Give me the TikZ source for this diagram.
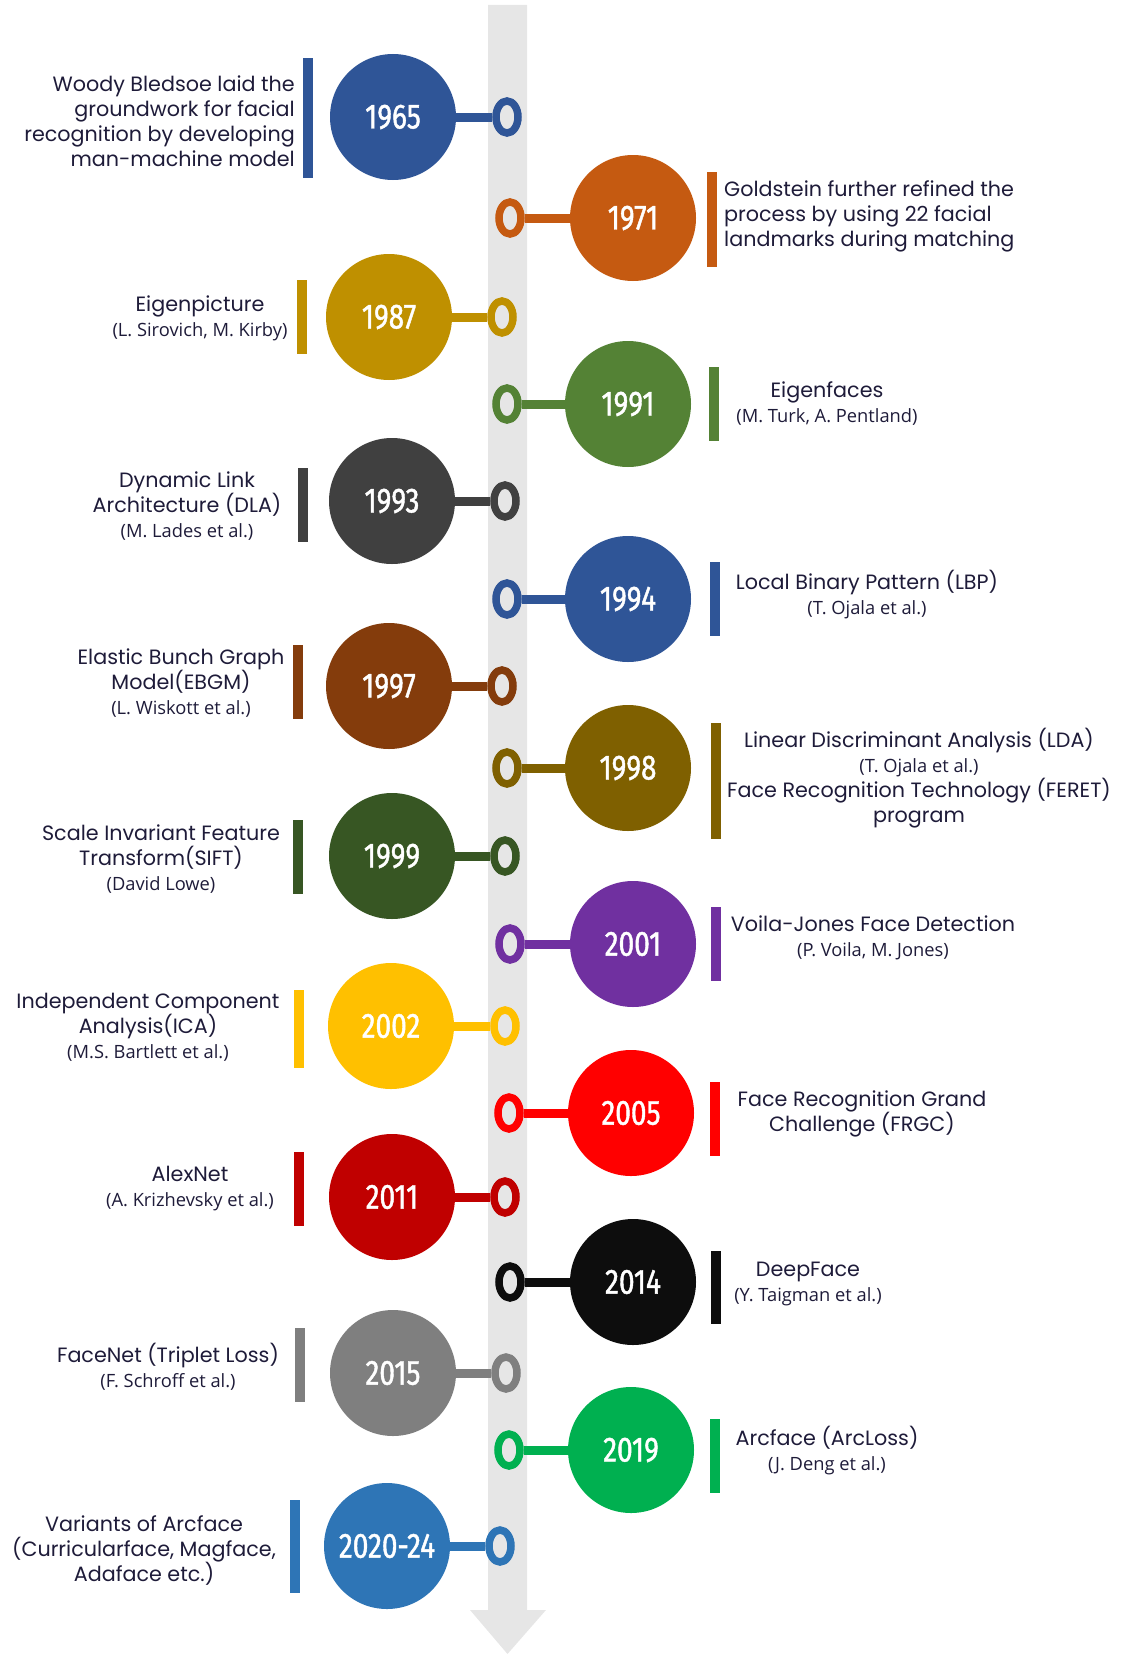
\documentclass[tikz,border=0pt]{standalone}
\usepackage{fontspec}
\usepackage{tikz}
\usetikzlibrary{shapes.geometric}
\newfontfamily\popp{Poppins}
\newfontfamily\auth{Open Sans}
\newfontfamily\yearf[FakeStretch=0.8, FakeBold=1.2]{Fira Sans}
\definecolor{ink}{HTML}{1E1B39}
\definecolor{track}{HTML}{E6E6E6}
\definecolor{cA}{HTML}{2F5597}
\definecolor{cB}{HTML}{C55A11}
\definecolor{cC}{HTML}{BF9000}
\definecolor{cD}{HTML}{548235}
\definecolor{cE}{HTML}{404040}
\definecolor{cF}{HTML}{843C0C}
\definecolor{cG}{HTML}{7F6000}
\definecolor{cH}{HTML}{375623}
\definecolor{cI}{HTML}{7030A0}
\definecolor{cJ}{HTML}{FFC000}
\definecolor{cK}{HTML}{FF0000}
\definecolor{cL}{HTML}{C00000}
\definecolor{cM}{HTML}{0D0D0D}
\definecolor{cN}{HTML}{7F7F7F}
\definecolor{cO}{HTML}{00B050}
\definecolor{cP}{HTML}{2E75B6}
\newcommand{\who}[1]{{\auth\fontsize{18.3}{25}\selectfont #1}}

\begin{document}
\begin{tikzpicture}[x=1pt, y=-1pt,
	yearnode/.style={circle, fill=#1, minimum size=126pt, inner sep=0pt, text=white, font=\yearf\fontsize{35}{35}\selectfont},
	ringnode/.style={ellipse, draw=#1, line width=7.5pt, minimum width=22pt, minimum height=32pt, inner sep=0pt},
	barnode/.style={rectangle, fill=#1, minimum width=10pt, inner sep=0pt},
	link/.style={line width=9pt},
	textnode/.style={align=center, text=ink, inner sep=0pt, font=\popp\fontsize{20.7}{25}\selectfont}]
		\useasboundingbox (0,0) rectangle (1125,1654);
		% track with arrow head
		\fill[track] (488,5) -- (527,5) -- (527,1610) -- (546,1610) -- (507.5,1654) -- (470,1610) -- (488,1610) -- cycle;
		
		% rings on the track
		\node[ringnode=cA]	(r1965) at (507,117)	{};
		\node[ringnode=cB]	(r1971) at (510,218)	{};
		\node[ringnode=cC]	(r1987) at (502,317)	{};
		\node[ringnode=cD]	(r1991) at (507,404)	{};
		\node[ringnode=cE]	(r1993) at (505,501)	{};
		\node[ringnode=cA]	(r1994) at (507,599)	{};
		\node[ringnode=cF]	(r1997) at (502,686)	{};
		\node[ringnode=cG]	(r1998) at (507,768)	{};
		\node[ringnode=cH]	(r1999) at (505,856)	{};
		\node[ringnode=cI]	(r2001) at (510,944)	{};
		\node[ringnode=cJ]	(r2002) at (505,1026)	{};
		\node[ringnode=cK]	(r2005) at (509,1113)	{};
		\node[ringnode=cL]	(r2011) at (505,1197)	{};
		\node[ringnode=cM]	(r2014) at (510,1282)	{};
		\node[ringnode=cN]	(r2015) at (506,1373)	{};
		\node[ringnode=cO]	(r2019) at (509,1450)	{};
		\node[ringnode=cP]	(r2020) at (500,1546)	{};
		
		% year circles
		\node[yearnode=cA]	(c1965) at (393,117)	{1965};
		\node[yearnode=cB]	(c1971) at (633,218)	{1971};
		\node[yearnode=cC]	(c1987) at (389,317)	{1987};
		\node[yearnode=cD]	(c1991) at (628,404)	{1991};
		\node[yearnode=cE]	(c1993) at (392,501)	{1993};
		\node[yearnode=cA]	(c1994) at (628,599)	{1994};
		\node[yearnode=cF]	(c1997) at (389,686)	{1997};
		\node[yearnode=cG]	(c1998) at (628,768)	{1998};
		\node[yearnode=cH]	(c1999) at (392,856)	{1999};
		\node[yearnode=cI]	(c2001) at (633,944)	{2001};
		\node[yearnode=cJ]	(c2002) at (391,1026)	{2002};
		\node[yearnode=cK]	(c2005) at (631,1113)	{2005};
		\node[yearnode=cL]	(c2011) at (392,1197)	{2011};
		\node[yearnode=cM]	(c2014) at (633,1282)	{2014};
		\node[yearnode=cN]	(c2015) at (393,1373)	{2015};
		\node[yearnode=cO]	(c2019) at (631,1450)	{2019};
		\node[yearnode=cP]	(c2020) at (387,1546)	{2020-24};
		
		\draw[link, cA] (c1965) -- (r1965);
		\draw[link, cB] (c1971) -- (r1971);
		\draw[link, cC] (c1987) -- (r1987);
		\draw[link, cD] (c1991) -- (r1991);
		\draw[link, cE] (c1993) -- (r1993);
		\draw[link, cA] (c1994) -- (r1994);
		\draw[link, cF] (c1997) -- (r1997);
		\draw[link, cG] (c1998) -- (r1998);
		\draw[link, cH] (c1999) -- (r1999);
		\draw[link, cI] (c2001) -- (r2001);
		\draw[link, cJ] (c2002) -- (r2002);
		\draw[link, cK] (c2005) -- (r2005);
		\draw[link, cL] (c2011) -- (r2011);
		\draw[link, cM] (c2014) -- (r2014);
		\draw[link, cN] (c2015) -- (r2015);
		\draw[link, cO] (c2019) -- (r2019);
		\draw[link, cP] (c2020) -- (r2020);
		
		% accent bars
		\node[barnode=cA, minimum height=120pt]	(b1965) at (308,118)	{};
		\node[barnode=cB, minimum height=95pt]	(b1971) at (712,219.5)	{};
		\node[barnode=cC, minimum height=74pt]	(b1987) at (302,317)	{};
		\node[barnode=cD, minimum height=74pt]	(b1991) at (714,404)	{};
		\node[barnode=cE, minimum height=74pt]	(b1993) at (303,505)	{};
		\node[barnode=cA, minimum height=74pt]	(b1994) at (715,599)	{};
		\node[barnode=cF, minimum height=74pt]	(b1997) at (298,682)	{};
		\node[barnode=cG, minimum height=116pt]	(b1998) at (716,781)	{};
		\node[barnode=cH, minimum height=74pt]	(b1999) at (298,857)	{};
		\node[barnode=cI, minimum height=74pt]	(b2001) at (716,944)	{};
		\node[barnode=cJ, minimum height=78pt]	(b2002) at (299,1029)	{};
		\node[barnode=cK, minimum height=74pt]	(b2005) at (715,1119)	{};
		\node[barnode=cL, minimum height=74pt]	(b2011) at (299,1189)	{};
		\node[barnode=cM, minimum height=73pt]	(b2014) at (716,1287.5)	{};
		\node[barnode=cN, minimum height=74pt]	(b2015) at (300,1365)	{};
		\node[barnode=cO, minimum height=74pt]	(b2019) at (715,1456)	{};
		\node[barnode=cP, minimum height=93pt]	(b2020) at (295,1546.5)	{};
		
		% descriptions
		\node[textnode, align=right, anchor=east]	(t1965) at (295,121)	{Woody Bledsoe laid the\\groundwork for facial\\recognition by developing\\man-machine model};
		\node[textnode, align=left, anchor=west]	(t1971) at (724,216)	{Goldstein further refined the\\process by using 22 facial\\landmarks during matching};
		\node[textnode]	(t1987) at (200,318)	{Eigenpicture\\\who{(L. Sirovich, M. Kirby)}};
		\node[textnode]	(t1991) at (827,404)	{Eigenfaces\\\who{(M. Turk, A. Pentland)}};
		\node[textnode]	(t1993) at (187,506)	{Dynamic Link\\Architecture (DLA)\\\who{(M. Lades et al.)}};
		\node[textnode]	(t1994) at (867,595)	{Local Binary Pattern (LBP)\\\who{(T. Ojala et al.)}};
		\node[textnode]	(t1997) at (181,683)	{Elastic Bunch Graph\\Model(EBGM)\\\who{(L. Wiskott et al.)}};
		\node[textnode]	(t1998) at (919,778)	{Linear Discriminant Analysis (LDA)\\\who{(T. Ojala et al.)}\\Face Recognition Technology (FERET)\\program};
		\node[textnode]	(t1999) at (161,859)	{Scale Invariant Feature\\Transform(SIFT)\\\who{(David Lowe)}};
		\node[textnode]	(t2001) at (873,938)	{Voila-Jones Face Detection\\\who{(P. Voila, M. Jones)}};
		\node[textnode]	(t2002) at (148,1027)	{Independent Component\\Analysis(ICA)\\\who{(M.S. Bartlett et al.)}};
		\node[textnode]	(t2005) at (862,1114)	{Face Recognition Grand\\Challenge (FRGC)};
		\node[textnode]	(t2011) at (190,1189)	{AlexNet\\\who{(A. Krizhevsky et al.)}};
		\node[textnode]	(t2014) at (808,1284)	{DeepFace\\\who{(Y. Taigman et al.)}};
		\node[textnode]	(t2015) at (168,1367)	{FaceNet (Triplet Loss)\\\who{(F. Schroff et al.)}};
		\node[textnode]	(t2019) at (827,1451)	{Arcface (ArcLoss)\\\who{(J. Deng et al.)}};
		\node[textnode]	(t2020) at (144,1550)	{Variants of Arcface\\(Curricularface, Magface,\\Adaface etc.)};
		
\end{tikzpicture}
\end{document}
